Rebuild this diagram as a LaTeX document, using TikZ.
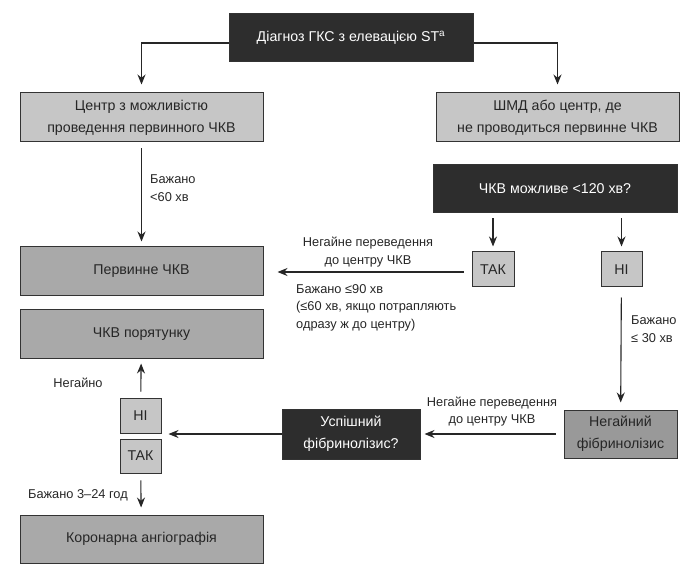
\documentclass[tikz,border=0pt]{standalone}
\usepackage{fontspec}
\setmainfont{Liberation Sans}
\usetikzlibrary{arrows.meta}
\definecolor{boxlight}{HTML}{C6C6C6}
\definecolor{boxmid}{HTML}{A9A9A9}
\definecolor{boxdark}{HTML}{2D2D2D}
\tikzset{
  box/.style={draw=black!80, line width=1pt, fill=boxmid, text=black!85, font=\fontsize{14.2}{22}\selectfont, align=center, inner sep=0pt},
  lightbox/.style={box, fill=boxlight},
  darkbox/.style={box, fill=boxdark, text=white},
  arr/.style={draw=black!85, line width=1.1pt, -{Stealth[length=10pt,width=8pt]}},
  lbl/.style={font=\fontsize{12.8}{17.5}\selectfont, text=black!85, inner sep=0pt}
}

\begin{document}
\begin{tikzpicture}[x=1pt,y=-1pt]
  \useasboundingbox (0,0) rectangle (688,569);

  % boxes
  \node[darkbox, minimum width=244, minimum height=48] (diag) at (351,38) {Діагноз ГКС з елевацією ST\textsuperscript{а}};
  \node[lightbox, minimum width=243, minimum height=49] (pcicentre) at (141.5,117.5) {Центр з можливістю\\проведення первинного ЧКВ};
  \node[lightbox, minimum width=243, minimum height=49] (ems) at (557.5,117.5) {ШМД або центр, де\\не проводиться первинне ЧКВ};
  \node[darkbox, minimum width=244, minimum height=48] (pci120) at (555,189) {ЧКВ можливе <120 хв?};
  \node[lightbox, minimum width=42, minimum height=35] (yesa) at (493,269.5) {ТАК};
  \node[lightbox, minimum width=41, minimum height=35] (noa) at (621.5,269.5) {НІ};
  \node[box, minimum width=243, minimum height=49] (primary) at (141.5,271.5) {Первинне ЧКВ};
  \node[box, minimum width=243, minimum height=48] (rescue) at (141.5,334) {ЧКВ порятунку};
  \node[box, fill=black!40, minimum width=113, minimum height=48] (lysis) at (620.5,434) {Негайний\\фібринолізис};
  \node[darkbox, minimum width=138, minimum height=50] (success) at (351,434) {Успішний\\фібринолізис?};
  \node[lightbox, minimum width=41, minimum height=35] (nob) at (140.5,415.5) {НІ};
  \node[lightbox, minimum width=41, minimum height=34] (yesb) at (140.5,456) {ТАК};
  \node[box, minimum width=243, minimum height=48] (angio) at (141.5,539) {Коронарна ангіографія};

  % connectors
  \draw[arr, shorten >=8pt] ([yshift=-5pt]diag.west) -| (pcicentre.north);
  \draw[arr, shorten >=8pt] ([yshift=-5pt]diag.east) -| (ems.north);
  \draw[arr, shorten <=6pt, shorten >=5pt] (pcicentre) -- (primary);
  \draw[arr, shorten <=5pt, shorten >=5pt] (pci120.south -| yesa) -- (yesa.north);
  \draw[arr, shorten <=5pt, shorten >=5pt] (pci120.south -| noa) -- (noa.north);
  \draw[arr, shorten <=8pt, shorten >=14pt] ([yshift=-2.5pt]yesa.west) -- ([yshift=-2.5pt]yesa.west -| primary.east);
  \draw[arr, shorten <=10pt, shorten >=7pt] (noa) -- (lysis);
  \draw[arr, shorten <=8pt, shorten >=4pt] (lysis) -- (success);
  \draw[arr, shorten >=7pt] (success.west) -- (success.west -| nob.east);
  \draw[arr, shorten <=6pt, shorten >=5pt] (nob) -- (rescue);
  \draw[arr, shorten <=7pt, shorten >=7pt] (yesb) -- (angio);

  % labels
  \node[lbl, anchor=west, align=left] (lbla) at (150,188) {Бажано\\<60 хв};
  \node[lbl, align=center] (lblb) at (368,252) {Негайне переведення\\до центру ЧКВ};
  \node[lbl, anchor=west, align=left] (lblc) at (296,307.5) {Бажано ≤90 хв\\(≤60 хв, якщо потрапляють\\одразу ж до центру)};
  \node[lbl, anchor=west, align=left] (lbld) at (631,329) {Бажано\\≤ 30 хв};
  \node[lbl, align=center] (lble) at (492,411.5) {Негайне переведення\\до центру ЧКВ};
  \node[lbl] (lblf) at (78,383) {Негайно};
  \node[lbl, anchor=east] (lblg) at (128,495) {Бажано 3–24 год};
\end{tikzpicture}
\end{document}
